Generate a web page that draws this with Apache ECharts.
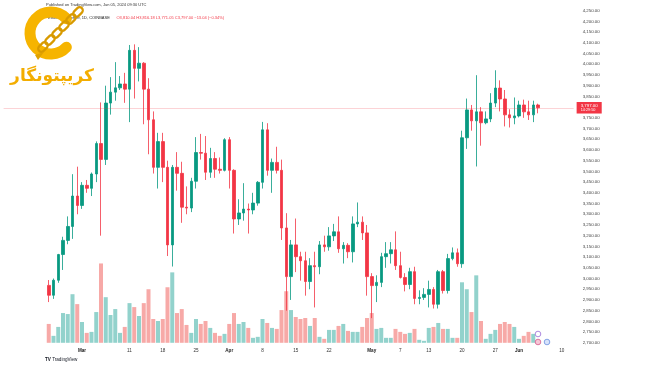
<!DOCTYPE html>
<html><head><meta charset="utf-8">
<script src="https://cdn.jsdelivr.net/npm/echarts/dist/echarts.min.js"></script>
<style>html,body{margin:0;padding:0;background:#fff}#c{width:650px;height:365px}</style>
</head><body><div id="c"></div><script>
// ---- data (ETH/USDT 1D) ----
const padBefore = ['02-14','02-15','02-16','02-17','02-18','02-19','02-20','02-21','02-22'];
const dates = [
'02-23','02-24','02-25','02-26','02-27','02-28','02-29',
'03-01','03-02','03-03','03-04','03-05','03-06','03-07','03-08','03-09','03-10',
'03-11','03-12','03-13','03-14','03-15','03-16','03-17','03-18','03-19','03-20',
'03-21','03-22','03-23','03-24','03-25','03-26','03-27','03-28','03-29','03-30','03-31',
'04-01','04-02','04-03','04-04','04-05','04-06','04-07','04-08','04-09','04-10',
'04-11','04-12','04-13','04-14','04-15','04-16','04-17','04-18','04-19','04-20',
'04-21','04-22','04-23','04-24','04-25','04-26','04-27','04-28','04-29','04-30',
'05-01','05-02','05-03','05-04','05-05','05-06','05-07','05-08','05-09','05-10',
'05-11','05-12','05-13','05-14','05-15','05-16','05-17','05-18','05-19','05-20',
'05-21','05-22','05-23','05-24','05-25','05-26','05-27','05-28','05-29','05-30','05-31',
'06-01','06-02','06-03','06-04','06-05'];
const padAfter = ['06-06','06-07','06-08','06-09','06-10','06-11','06-12'];

const opens = [
2968,2922,2992,3112,3178,3243,3385,
3341,3435,3421,3488,3630,3556,3819,3870,3890,3908,
3884,4065,3981,4005,3884,3741,3519,3639,3519,3157,
3519,3491,3333,3329,3454,3588,3585,3496,3560,3510,3505,
3648,3505,3278,3306,3324,3320,3352,3449,3694,3505,
3542,3505,3236,3009,3157,3102,3083,2986,3060,3055,
3157,3148,3199,3218,3139,3155,3125,3255,3263,3213,
3009,2967,2982,3102,3116,3134,3060,3005,2972,3032,
2907,2912,2926,2949,2880,3032,2944,3093,3120,3069,
3657,3787,3736,3778,3727,3745,3819,3889,3838,3764,3750,
3759,3810,3778,3764,3810];
const highs = [
2993,3000,3115,3195,3290,3487,3522,
3450,3460,3495,3640,3822,3900,3940,4010,3945,3960,
4090,4093,4080,4010,3935,3780,3680,3680,3550,3530,
3590,3545,3430,3470,3660,3675,3665,3610,3590,3565,3655,
3660,3510,3370,3445,3350,3400,3455,3731,3725,3560,
3615,3555,3305,3180,3280,3125,3125,3095,3125,3175,
3200,3240,3255,3290,3170,3165,3290,3355,3290,3250,
3025,3015,3120,3170,3170,3220,3125,3025,3050,3055,
2945,2955,2990,2960,3040,3040,3115,3145,3140,3690,
3840,3810,3949,3800,3780,3865,3972,3925,3880,3790,3845,
3830,3835,3830,3830,3816];
const lows = [
2890,2905,2980,3040,3160,3185,3300,
3325,3400,3385,3450,3200,3530,3765,3830,3880,3820,
3730,3840,3920,3720,3580,3490,3420,3450,3105,3056,
3410,3260,3300,3310,3420,3555,3460,3470,3470,3490,3500,
3420,3210,3250,3270,3210,3300,3340,3420,3480,3400,
3490,3180,2850,2900,3030,2990,2920,2950,2865,3020,
3125,3130,3175,3120,3070,3095,3075,3240,3180,2920,
2815,2890,2960,3050,3070,3040,3000,2940,2950,2880,
2880,2900,2865,2860,2860,2930,2930,3085,3055,3050,
3605,3690,3523,3620,3720,3730,3800,3780,3710,3705,3720,
3752,3750,3740,3730,3771];
const closes = [
2922,2992,3112,3178,3243,3385,3341,
3435,3421,3488,3630,3556,3819,3870,3890,3908,3884,
4065,3981,4005,3884,3741,3519,3639,3519,3157,3519,
3491,3333,3329,3454,3588,3585,3496,3560,3510,3505,3648,
3505,3278,3306,3324,3320,3352,3449,3694,3505,3542,
3505,3236,3009,3157,3102,3083,2986,3060,3055,3157,
3148,3199,3218,3139,3155,3125,3255,3263,3213,3009,
2967,2982,3102,3116,3134,3060,3005,2972,3032,2907,
2912,2926,2949,2880,3032,2944,3093,3120,3069,3657,
3787,3736,3778,3727,3745,3819,3889,3838,3764,3750,3759,
3810,3778,3764,3810,3797];
const volumes = [ // thousand ETH
190,70,160,300,290,490,390,
210,100,110,310,800,460,280,340,100,160,
400,360,270,400,540,240,220,240,560,710,
300,340,180,100,240,190,220,150,100,70,90,
190,300,190,210,150,50,60,240,200,150,
140,330,520,330,260,240,250,170,250,60,
40,130,130,170,190,120,110,110,160,250,
300,140,150,50,50,140,110,90,100,140,
30,20,150,160,200,140,140,50,50,610,
540,310,680,220,40,90,130,190,210,190,160,
40,70,110,90,20];
const tickDates = ['03-01','03-11','03-18','03-25','04-01','04-08','04-15','04-22','05-01','05-07','05-13','05-20','05-27','06-01','06-10'];
const tickTexts = ['Mar','11','18','25','Apr','8','15','22','May','7','13','20','27','Jun','10'];
const monthTicks = ['Mar','Apr','May','Jun'];

// ---- build ----
const cats = padBefore.concat(dates, padAfter);
const tickMap = {};
tickDates.forEach((d,i)=>{tickMap[d]=tickTexts[i];});
const UP='#089981', DOWN='#f23645';
const candle = dates.map((d,i)=>[d,opens[i],closes[i],lows[i],highs[i]]);
const vol = dates.map((d,i)=>({value:[d,volumes[i]],itemStyle:{color: closes[i]>=opens[i]?'rgba(38,166,154,0.5)':'rgba(239,83,80,0.5)'}}));
const last = closes.length-1;
const fmt = v => v.toLocaleString('en-US',{minimumFractionDigits:2,maximumFractionDigits:2});

const GL=3.625, GR=650-3.625-570, GT=-2.8, GB=365-342.8;
const chart = echarts.init(document.getElementById('c'));

const chainLinks = [];
const chainPts = [[78,12],[71,19],[64,26],[57,33],[50,40],[43,47]];
chainPts.forEach((p,i)=>{
  chainLinks.push({type:'rect',x:p[0],y:p[1],rotation:(i%2? -Math.PI/4 : Math.PI/4)*0+Math.PI/4,
    shape:{x:-5.5,y:-3.2,width:11,height:6.4,r:3.2},
    style:{fill:null,stroke:'#d89a00',lineWidth:2.2},z:102});
});

chart.setOption({
  animation:false,
  backgroundColor:'#ffffff',
  grid:[
    {left:GL,right:GR,top:GT,bottom:GB},
    {left:GL,right:GR,top:GT,bottom:GB}
  ],
  xAxis:[
    {type:'category',data:cats,gridIndex:0,boundaryGap:true,
     axisLine:{show:false},axisTick:{show:false},splitLine:{show:false},
     axisLabel:{interval:(idx,val)=>tickMap[val]!==undefined,margin:5,fontSize:4.6,color:'#333',fontFamily:'Arial, Liberation Sans',
       formatter:(val)=>{const t=tickMap[val]; if(t===undefined) return ''; return monthTicks.includes(t)?'{b|'+t+'}':t;},
       rich:{b:{fontSize:4.6,fontWeight:'bold',color:'#222'}}}},
    {type:'category',data:cats,gridIndex:1,boundaryGap:true,show:false}
  ],
  yAxis:[
    {type:'value',gridIndex:0,position:'right',min:2700,max:4300,interval:50,scale:true,
     axisLine:{show:false},axisTick:{show:false},splitLine:{show:false},
     axisLabel:{margin:9,fontSize:4.4,color:'#444',fontFamily:'Arial, Liberation Sans',
       formatter:v=> v>=4300?'':fmt(v)}},
    {type:'value',gridIndex:1,min:0,max:3456,show:false}
  ],
  series:[
    {type:'bar',xAxisIndex:1,yAxisIndex:1,data:vol,barWidth:4,encode:{x:0,y:1},z:1,
     markLine:{symbol:['none','none'],silent:true,data:[{yAxis:volumes[last]}],
       lineStyle:{opacity:0},
       label:{show:true,position:'end',distance:4,formatter:()=>volumes[last].toFixed(3)+'K',
         backgroundColor:'#f05a6a',color:'#fff',fontSize:4.2,padding:[1.5,3,1.5,3]}}},
    {type:'candlestick',xAxisIndex:0,yAxisIndex:0,data:candle,barWidth:3,encode:{x:0,y:[1,2,3,4]},z:3,
     itemStyle:{color:UP,color0:DOWN,borderColor:UP,borderColor0:DOWN,borderWidth:0.8},
     markLine:{symbol:['none','none'],silent:true,data:[{yAxis:closes[last]}],
       lineStyle:{color:'rgba(242,54,69,0.22)',type:'solid',width:1},
       label:{show:true,position:'end',distance:3,
         formatter:()=>'{a|'+fmt(closes[last])+'}\n{t|14:29:50}',
         backgroundColor:'#f23645',padding:[1,4,1,4],
         rich:{a:{color:'#fff',fontSize:4.4,lineHeight:5},t:{color:'#fff',fontSize:3.8,lineHeight:4.5}}}}}
  ],
  graphic:[
    {type:'text',left:46,top:3,z:50,style:{text:'Published on TradingView.com, Jun 05, 2024 09:30 UTC',fontSize:4,fill:'#333',fontFamily:'Arial, Liberation Sans'}},
    {type:'text',left:48,top:12,z:50,style:{text:'{k|Ethereum / Tether, 1D, COINBASE}  {r|O3,810.04 H3,816.18 L3,771.05 C3,797.00 \u221213.04 (\u22120.34%)}',
      rich:{k:{fontSize:4,fill:'#222',fontFamily:'Arial, Liberation Sans'},r:{fontSize:4,fill:'#f23645',fontFamily:'Arial, Liberation Sans'}}}},
    {type:'group',z:100,children:[
      {type:'arc',shape:{cx:51,cy:33,r:21,startAngle:0.75,endAngle:2*Math.PI-0.75,clockwise:true},
        style:{stroke:'#f6b400',lineWidth:11,fill:null,lineCap:'round'},z:101},
      ...chainLinks,
      {type:'polygon',shape:{points:[[35,55],[44,52],[38,60]]},style:{fill:'#e0a200'},z:102},
      {type:'text',x:52,y:68,z:103,style:{text:'کریپتونگار',fontSize:17,fontWeight:'bold',fill:'#f3ad00',fontFamily:'DejaVu Sans',align:'center',verticalAlign:'top'}}
    ]},
    {type:'text',left:45,top:357,z:50,style:{text:'{m|TV} TradingView',rich:{m:{fontSize:4.6,fontWeight:'bold',fill:'#131722'}},fontSize:4.6,fill:'#131722',fontFamily:'Arial, Liberation Sans'}},
    {type:'circle',shape:{cx:538,cy:334,r:2.8},style:{fill:'#fff',stroke:'#9b6cd8',lineWidth:0.8},z:60},
    {type:'circle',shape:{cx:538,cy:342,r:2.8},style:{fill:'#f7c6d6',stroke:'#d25a8a',lineWidth:0.8},z:60},
    {type:'circle',shape:{cx:547,cy:342,r:2.8},style:{fill:'#d7e3fb',stroke:'#6c8fe0',lineWidth:0.8},z:60}
  ]
});
</script></body></html>
